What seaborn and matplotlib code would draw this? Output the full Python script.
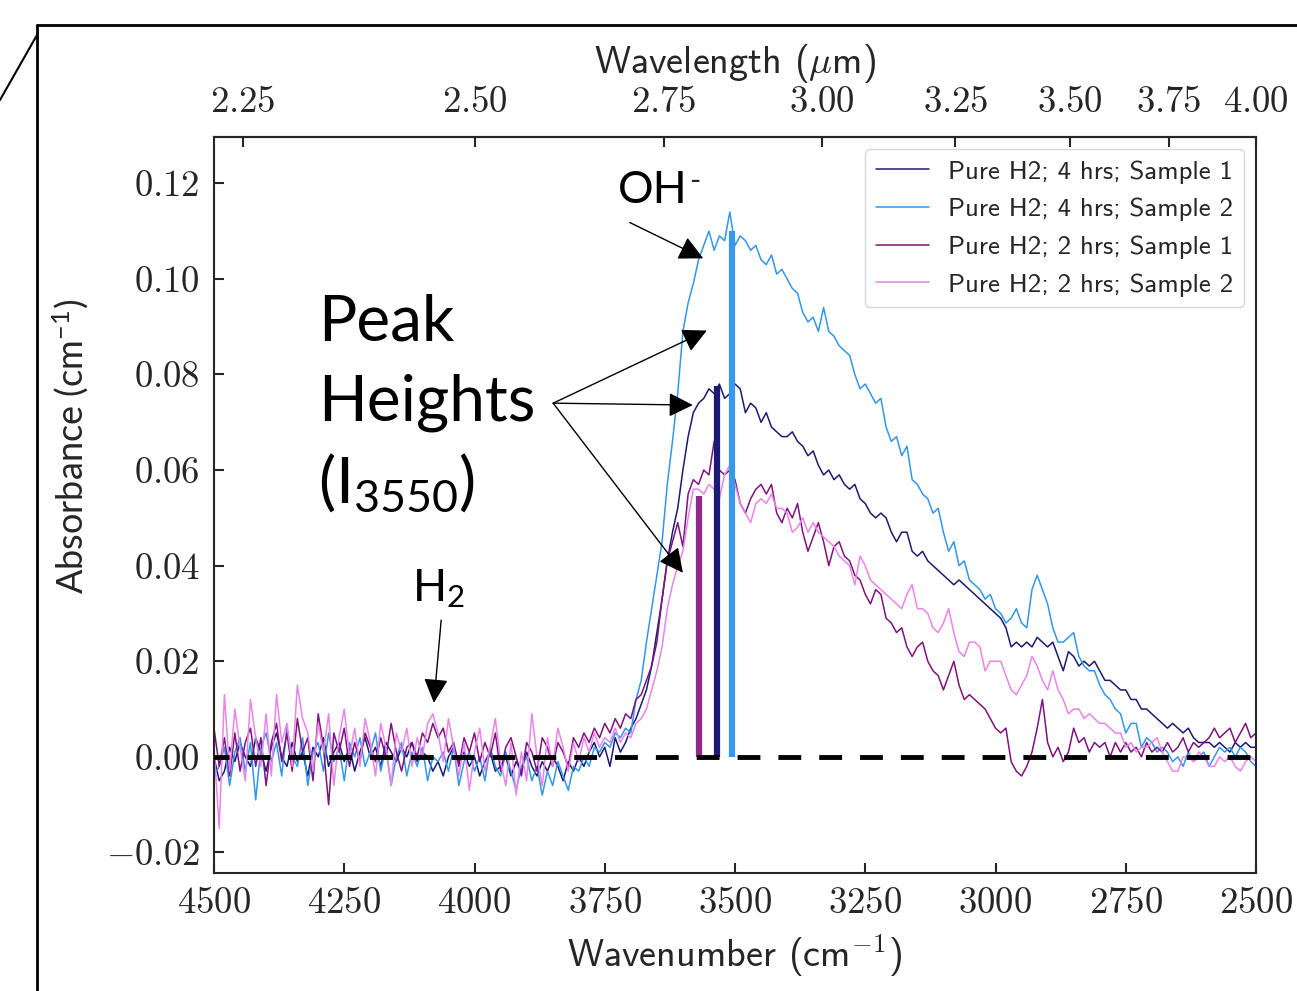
import matplotlib
matplotlib.use("Agg")
import matplotlib.pyplot as plt
import matplotlib.lines as mlines
import seaborn as sns
import pandas as pd
from matplotlib.ticker import FixedLocator, FuncFormatter

# wavenumber grid of the spectra (cm-1)
wavenumber = list(range(4500, 2499, -10))

# absorbance x 1000 (4500 -> 2500 cm-1)
h2_4h_s1 = [
    0, -5, -3, 2, -1, 3, 0, -2, 4, 1,
    -3, 2, 5, 0, -2, 3, -1, 1, -4, 2,
    0, 4, -2, 1, 3, -1, 2, -3, 1, 4,
    0, 2, -2, 3, 1, -1, 2, 0, 3, -1,
    1, 0, -3, -1, -4, 0, 2, -1, 1, -2,
    0, -4, -1, 1, -3, -2, 0, -4, -1, -3,
    1, -2, -4, -1, -3, 0, -2, -5, -1, -3,
    0, -2, 1, 3, 0, 2, -2, 4, 1, 3,
    6, 8, 11, 14, 19, 26, 33, 41, 47, 52,
    60, 67, 72, 74, 75, 77, 76, 78, 75, 76,
    78, 77, 72, 74, 73, 70, 72, 69, 68, 67,
    67, 68, 66, 65, 63, 64, 61, 59, 60, 58,
    59, 57, 56, 57, 54, 53, 51, 50, 51, 50,
    47, 45, 47, 47, 43, 42, 43, 41, 40, 39,
    38, 37, 36, 37, 36, 35, 34, 33, 32, 31,
    30, 29, 27, 23, 24, 23, 24, 23, 25, 24,
    23, 24, 21, 18, 22, 21, 19, 20, 19, 20,
    18, 16, 16, 15, 14, 14, 12, 12, 10, 10,
    9, 8, 7, 6, 7, 6, 5, 6, 4, 3,
    3, 3, 2, 3, 2, 1, 3, 2, 3, 2,
    2]

h2_4h_s2 = [
    -4, -2, 2, -6, 1, 4, -3, 3, -9, 2,
    5, -1, 3, -4, 6, 0, -2, 4, -6, 1,
    3, -3, 5, -1, 2, -5, 3, 0, 4, -2,
    1, 5, -3, 2, -6, 0, 3, -4, 1, -2,
    2, -5, 0, -1, 1, -3, 2, -6, -1, 1,
    -3, 0, -5, 2, -2, -4, 1, -3, -7, -2,
    0, -5, -2, -8, -3, -6, -1, -4, -7, -2,
    -3, 0, -2, 2, 1, 3, 2, 5, 4, 6,
    5, 12, 16, 24, 31, 38, 45, 57, 66, 76,
    89, 95, 99, 104, 107, 110, 106, 109, 108, 114,
    107, 109, 108, 106, 107, 104, 103, 105, 101, 102,
    100, 98, 97, 93, 91, 92, 89, 94, 89, 88,
    86, 85, 84, 80, 77, 78, 76, 74, 75, 69,
    66, 67, 63, 65, 58, 57, 55, 54, 51, 52,
    47, 43, 45, 40, 41, 37, 36, 35, 33, 34,
    31, 30, 28, 29, 31, 28, 27, 35, 38, 35,
    32, 27, 24, 24, 25, 26, 21, 19, 18, 18,
    15, 13, 12, 10, 9, 5, 7, 7, 2, 4,
    3, 1, 2, 1, -1, 0, -2, 1, -1, 0,
    1, -2, 0, 2, 1, 2, 0, 2, 1, -1,
    -2]

h2_2h_s1 = [
    6, -2, 4, -4, 5, -3, 3, 6, -2, 4,
    -6, 3, 7, -1, 5, -3, 8, 1, 4, -5,
    9, 2, -10, 5, 1, 6, -2, 3, -1, 5,
    2, -1, 4, 0, 7, 1, -3, 2, 3, 0,
    5, 3, 7, 4, 6, 1, 3, -2, 4, 1,
    5, -1, 3, 0, 5, -3, 2, 4, 0, -4,
    3, 1, -3, 4, 2, -2, 3, 1, -2, 4,
    2, 5, 3, 6, 4, 7, 5, 8, 6, 9,
    8, 12, 13, 16, 19, 24, 33, 41, 45, 49,
    44, 55, 58, 57, 60, 59, 66, 60, 59, 60,
    58, 53, 51, 54, 56, 57, 55, 57, 51, 49,
    52, 50, 53, 47, 43, 46, 49, 45, 40, 44,
    45, 42, 41, 38, 37, 34, 32, 35, 34, 29,
    28, 26, 27, 23, 21, 23, 24, 20, 18, 17,
    14, 17, 20, 15, 12, 13, 12, 11, 10, 8,
    6, 5, 6, -1, -3, -4, -2, 1, 6, 12,
    3, 0, 2, -1, 1, 6, 3, 4, 1, 3,
    2, 3, 0, 3, 1, 3, 1, 2, 0, 3,
    1, 2, 1, 3, 1, 2, 4, 1, 3, 2,
    3, 4, 6, 4, 5, 6, 3, 5, 7, 4,
    5]

h2_2h_s2 = [
    2, -15, 13, -3, 10, 2, -5, 12, 4, -2,
    9, -4, 13, 3, 7, -2, 15, 8, 5, -3,
    7, 1, 9, -6, 4, 10, 0, 6, -2, 8,
    3, -4, 7, 2, -6, 5, 1, 6, -2, 4,
    0, 7, 9, 5, -1, 8, 2, -4, 3, -7,
    1, 6, -3, 2, 8, -1, -6, 3, -8, 1,
    -5, 9, 0, -6, 4, -2, 6, 2, -3, 3,
    -1, 4, 1, 5, 2, 4, 3, 6, 3, 5,
    4, 7, 8, 10, 14, 18, 23, 31, 36, 40,
    43, 50, 56, 56, 55, 57, 56, 54, 59, 61,
    57, 53, 51, 49, 53, 54, 53, 55, 52, 52,
    51, 47, 48, 50, 47, 49, 47, 46, 45, 44,
    42, 41, 40, 36, 42, 40, 37, 36, 35, 34,
    33, 32, 31, 34, 36, 31, 31, 30, 27, 26,
    28, 31, 26, 22, 21, 24, 24, 23, 18, 20,
    20, 20, 17, 14, 13, 15, 17, 21, 19, 16,
    14, 18, 14, 12, 9, 10, 10, 8, 9, 8,
    7, 7, 6, 5, 5, 2, 3, 1, 2, 2,
    3, 4, 1, -1, -3, -3, 0, 0, -1, 1,
    0, -2, -2, 0, -1, 0, -2, -3, -1, 0,
    -1]

labels = ["Pure H2; 4 hrs; Sample 1", "Pure H2; 4 hrs; Sample 2",
          "Pure H2; 2 hrs; Sample 1", "Pure H2; 2 hrs; Sample 2"]
colors = ["#1c1a72", "#3296ea", "#7e137e", "#ea84ea"]

# peak height markers (I3550)
peak_wn = [3570, 3535, 3505]
peak_height = [0.0545, 0.0775, 0.110]
peak_colors = ["#8e2a8e", "#1c1a72", "#3a98e8"]

wl_ticks = [2.25, 2.50, 2.75, 3.00, 3.25, 3.50, 3.75, 4.00]

series = [h2_4h_s1, h2_4h_s2, h2_2h_s1, h2_2h_s2]
frames = []
for lab, vals in zip(labels, series):
    assert len(vals) == len(wavenumber), (lab, len(vals))
    frames.append(pd.DataFrame({"wn": wavenumber,
                                "absorbance": [v / 1000 for v in vals],
                                "sample": lab}))
df = pd.concat(frames, ignore_index=True)

sns.set_style("ticks")
plt.rcParams.update({
    "font.family": "cmss10",
    "mathtext.fontset": "cm",
    "mathtext.rm": "Lato",
    "mathtext.it": "Lato:italic",
    "mathtext.bf": "Lato:bold",
    "mathtext.sf": "Lato",
    "axes.unicode_minus": True,
    "xtick.direction": "in",
    "ytick.direction": "in",
})

fig, ax = plt.subplots(figsize=(12.97, 9.91), dpi=100)
fig.subplots_adjust(left=0.165, right=0.9684, bottom=0.1191, top=0.8618)

sns.lineplot(data=df, x="wn", y="absorbance", hue="sample", hue_order=labels,
             palette=dict(zip(labels, colors)), lw=1.1, ax=ax)

ax.vlines(peak_wn, 0, peak_height, colors=peak_colors, lw=4.5, zorder=4)
ax.axhline(0, color="black", lw=3.5, ls=(1.6, (4.7, 3.7)), zorder=5)

ax.set_xlim(4500, 2500)
ax.set_ylim(-0.0243, 0.1297)
ax.xaxis.set_major_locator(FixedLocator([4500, 4250, 4000, 3750, 3500, 3250, 3000, 2750, 2500]))
ax.xaxis.set_major_formatter(FuncFormatter(lambda v, p: f"${v:.0f}$"))
ax.yaxis.set_major_locator(FixedLocator([-0.02, 0.0, 0.02, 0.04, 0.06, 0.08, 0.10, 0.12]))
ax.yaxis.set_major_formatter(FuncFormatter(lambda v, p: f"${v:.2f}$"))
ax.tick_params(labelsize=26.5, length=7, width=1.5, pad=10)
for s in ax.spines.values():
    s.set_linewidth(1.5)
    s.set_visible(True)

ax.set_xlabel(r"Wavenumber (cm$^{-1}$)", fontsize=27.5, labelpad=9)
ax.set_ylabel(r"Absorbance (cm$^{\mathrm{-1}}$)", fontsize=26, family="Lato",
              math_fontfamily="custom")
ax.yaxis.set_label_coords(-0.118, 0.579)

secax = ax.secondary_xaxis("top", functions=(lambda x: 1e4 / x, lambda x: 1e4 / x))
secax.set_xticks(wl_ticks)
secax.xaxis.set_major_formatter(FuncFormatter(lambda v, p: f"${v:.2f}$"))
secax.tick_params(labelsize=26.5, length=7, width=1.5, pad=13, direction="in")
secax.spines["top"].set_linewidth(1.5)
secax.set_xlabel(r"Wavelength ($\mu$m)", fontsize=27.5, labelpad=9)

handles, labs = ax.get_legend_handles_labels()
ax.legend(handles, labs, loc="upper right", fontsize=19.3, handlelength=2.0,
          handletextpad=0.7, borderaxespad=0.45, labelspacing=0.52,
          borderpad=0.4, edgecolor="#cccccc", fancybox=True)

# annotations
ann_font = dict(family="Lato", math_fontfamily="custom", color="black")
arrow = dict(arrowstyle="-|>,head_length=0.6,head_width=0.3", color="black",
             lw=1.0, mutation_scale=25, shrinkA=0, shrinkB=0)

oh = ax.text(3658, 0.1185, "OH", fontsize=32, ha="center", va="center", **ann_font)
ax.annotate("-", xy=(1.0, 1.0), xycoords=oh, xytext=(1, 2), textcoords="offset points",
            fontsize=22, ha="left", va="top", family="Lato")
ax.annotate("", xy=(3561, 0.1043), xytext=(3702, 0.1118), arrowprops=arrow)

ax.text(4300, 0.0872, "Peak", fontsize=46, ha="left", va="baseline", **ann_font)
ax.text(4300, 0.0704, "Heights", fontsize=46, ha="left", va="baseline", **ann_font)
ax.text(4300, 0.0531, r"(I$_{\mathrm{3550}}$)", fontsize=46, ha="left", va="baseline", **ann_font)
for tx, ty in [(3554, 0.0892), (3581, 0.0736), (3600, 0.0385)]:
    ax.annotate("", xy=(tx, ty), xytext=(3849, 0.0740), arrowprops=arrow)

ax.text(4070, 0.0353, r"H$_{\mathrm{2}}$", fontsize=32, ha="center", va="center", **ann_font)
ax.annotate("", xy=(4078, 0.0113), xytext=(4064, 0.0286), arrowprops=arrow)

# slide frame around the figure
fx, fy = 37 / 1297, 1 - 25 / 991
fig.add_artist(mlines.Line2D([fx, fx], [fy, 0], transform=fig.transFigure, color="black", lw=2))
fig.add_artist(mlines.Line2D([fx, 1], [fy, fy], transform=fig.transFigure, color="black", lw=2))
fig.add_artist(mlines.Line2D([fx, 0], [1 - 35 / 991, 1 - 100 / 991],
                             transform=fig.transFigure, color="black", lw=1.5))

fig.savefig("out.png", dpi=100)
